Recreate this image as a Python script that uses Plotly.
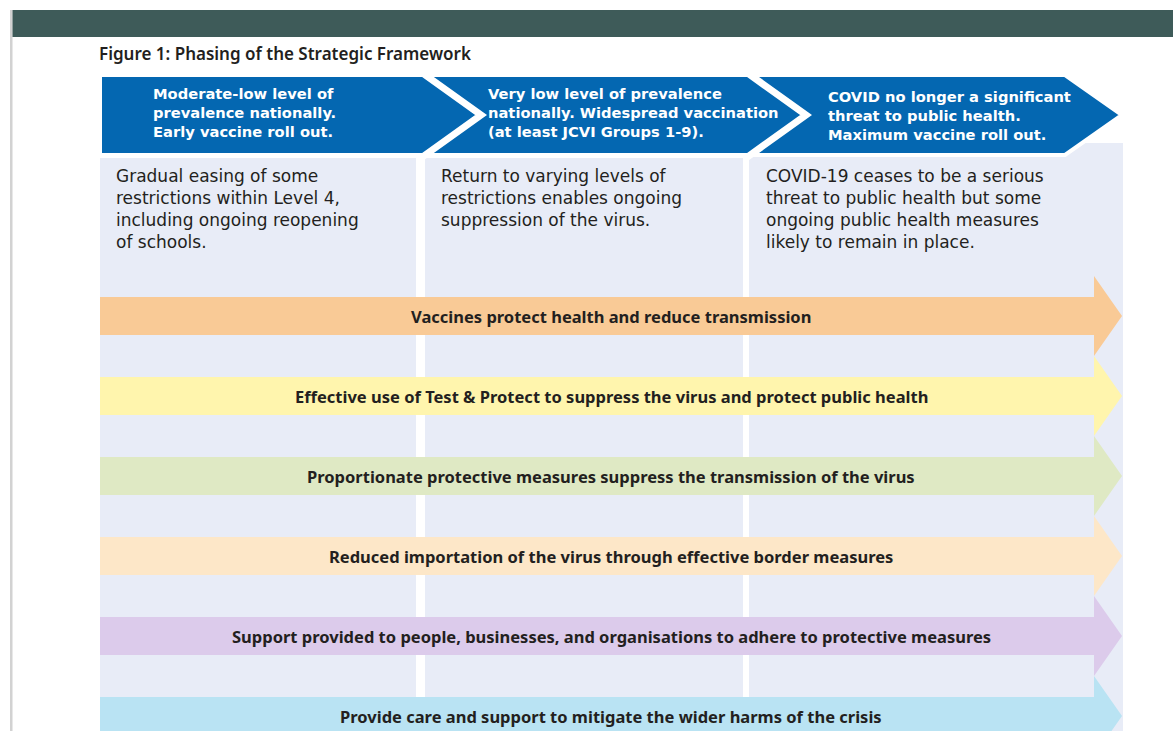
import plotly.graph_objects as go

# ---------------- content ----------------
figure_title = "Figure 1: Phasing of the Strategic Framework"

phase_titles = [
    ["Moderate-low level of", "prevalence nationally.", "Early vaccine roll out."],
    ["Very low level of prevalence", "nationally. Widespread vaccination", "(at least JCVI Groups 1-9)."],
    ["COVID no longer a significant", "threat to public health.", "Maximum vaccine roll out."],
]

phase_descriptions = [
    ["Gradual easing of some", "restrictions within Level 4,", "including ongoing reopening", "of schools."],
    ["Return to varying levels of", "restrictions enables ongoing", "suppression of the virus."],
    ["COVID-19 ceases to be a serious", "threat to public health but some", "ongoing public health measures",
     "likely to remain in place."],
]

arrow_labels = [
    "Vaccines protect health and reduce transmission",
    "Effective use of Test & Protect to suppress the virus and protect public health",
    "Proportionate protective measures suppress the transmission of the virus",
    "Reduced importation of the virus through effective border measures",
    "Support provided to people, businesses, and organisations to adhere to protective measures",
    "Provide care and support to mitigate the wider harms of the crisis",
]

# ---------------- styles / layout constants ----------------
W, H = 1173, 731
FONT = "Noto Sans"
BLOCK_FONT = "DejaVu Sans"
DARK = "#231f20"
BLUE = "#0467b1"
LAV = "#e8ecf7"
arrow_colors = ["#f9ca96", "#fff5ad", "#dfe9c4", "#fde7c8", "#dccbeb", "#b9e3f3"]

col_x = [(100, 416), (425, 743), (749, 1123)]
col_top = [158, 158, 143]
hdr_top, hdr_bot, hdr_mid = 75, 155, 115
chev_right, chev_tip = 1065, 1122
separators = [(421, 481), (746, 806)]
title_x = [151, 486, 826]
title_first_y = [93, 93, 96]
title_size = 14.7
desc_x = [114, 439, 764]
desc_first_y = 175.5
desc_size = 17
arrow_x0, arrow_neck, arrow_tip = 100, 1094, 1122
arrow_first_y, arrow_step = 316, 80
body_half, head_half = 19, 40

shapes = []
annotations = []

# left grey rule and top bar
shapes.append(dict(type="rect", x0=10, x1=12.5, y0=10, y1=H + 5, fillcolor="#d2d2d2", line_width=0, layer="below"))
shapes.append(dict(type="rect", x0=12.5, x1=W + 5, y0=10, y1=37, fillcolor="#3e5b59", line_width=0, layer="below"))

# columns
for (x0, x1), yt in zip(col_x, col_top):
    shapes.append(dict(type="rect", x0=x0, x1=x1, y0=yt, y1=H + 5, fillcolor=LAV, line_width=0, layer="below"))

# header chevron band
shapes.append(dict(
    type="path",
    path=f"M 100,{hdr_top} L {chev_right},{hdr_top} L {chev_tip},{hdr_mid} L {chev_right},{hdr_bot} L 100,{hdr_bot} Z",
    fillcolor=BLUE, line=dict(color="white", width=4), layer="below"))
for xa, xb in separators:
    shapes.append(dict(
        type="path",
        path=f"M {xa},{hdr_top - 3} L {xb},{hdr_mid} L {xa},{hdr_bot + 3}",
        line=dict(color="white", width=7), layer="below"))

# header texts
for i, lines in enumerate(phase_titles):
    lh = 1.3 * title_size
    annotations.append(dict(
        x=title_x[i], y=title_first_y[i] + (len(lines) - 1) / 2 * lh, text="<br>".join(lines),
        xanchor="left", yanchor="middle", align="left", showarrow=False,
        font=dict(family=BLOCK_FONT, size=title_size, color="white", weight="bold")))

# descriptions
for i, lines in enumerate(phase_descriptions):
    lh = 1.3 * desc_size
    annotations.append(dict(
        x=desc_x[i], y=desc_first_y + (len(lines) - 1) / 2 * lh, text="<br>".join(lines),
        xanchor="left", yanchor="middle", align="left", showarrow=False,
        font=dict(family=BLOCK_FONT, size=desc_size, color=DARK)))

# arrows
for i, (lab, col) in enumerate(zip(arrow_labels, arrow_colors)):
    yc = arrow_first_y + i * arrow_step
    p = (f"M {arrow_x0},{yc - body_half} L {arrow_neck},{yc - body_half} L {arrow_neck},{yc - head_half} "
         f"L {arrow_tip},{yc} L {arrow_neck},{yc + head_half} L {arrow_neck},{yc + body_half} "
         f"L {arrow_x0},{yc + body_half} Z")
    shapes.append(dict(type="path", path=p, fillcolor=col, line_width=0, layer="below"))
    annotations.append(dict(
        x=(arrow_x0 + arrow_tip) / 2, y=yc, text=lab, xanchor="center", yanchor="middle",
        showarrow=False, font=dict(family=FONT, size=16.5, color=DARK, weight="bold")))

# figure title
annotations.append(dict(
    x=97, y=53, text=figure_title, xanchor="left", yanchor="middle", showarrow=False,
    font=dict(family=FONT, size=17, color=DARK, weight=600)))

fig = go.Figure()
fig.update_layout(
    width=W, height=H,
    margin=dict(l=0, r=0, t=0, b=0),
    paper_bgcolor="white", plot_bgcolor="white",
    xaxis=dict(range=[0, W], visible=False, fixedrange=True),
    yaxis=dict(range=[H, 0], visible=False, fixedrange=True),
    shapes=shapes, annotations=annotations,
    showlegend=False,
)
fig.write_html(
    "out.html",
    config={"displayModeBar": False},
    post_script="document.body.style.margin='0';document.body.style.overflow='hidden';",
)
